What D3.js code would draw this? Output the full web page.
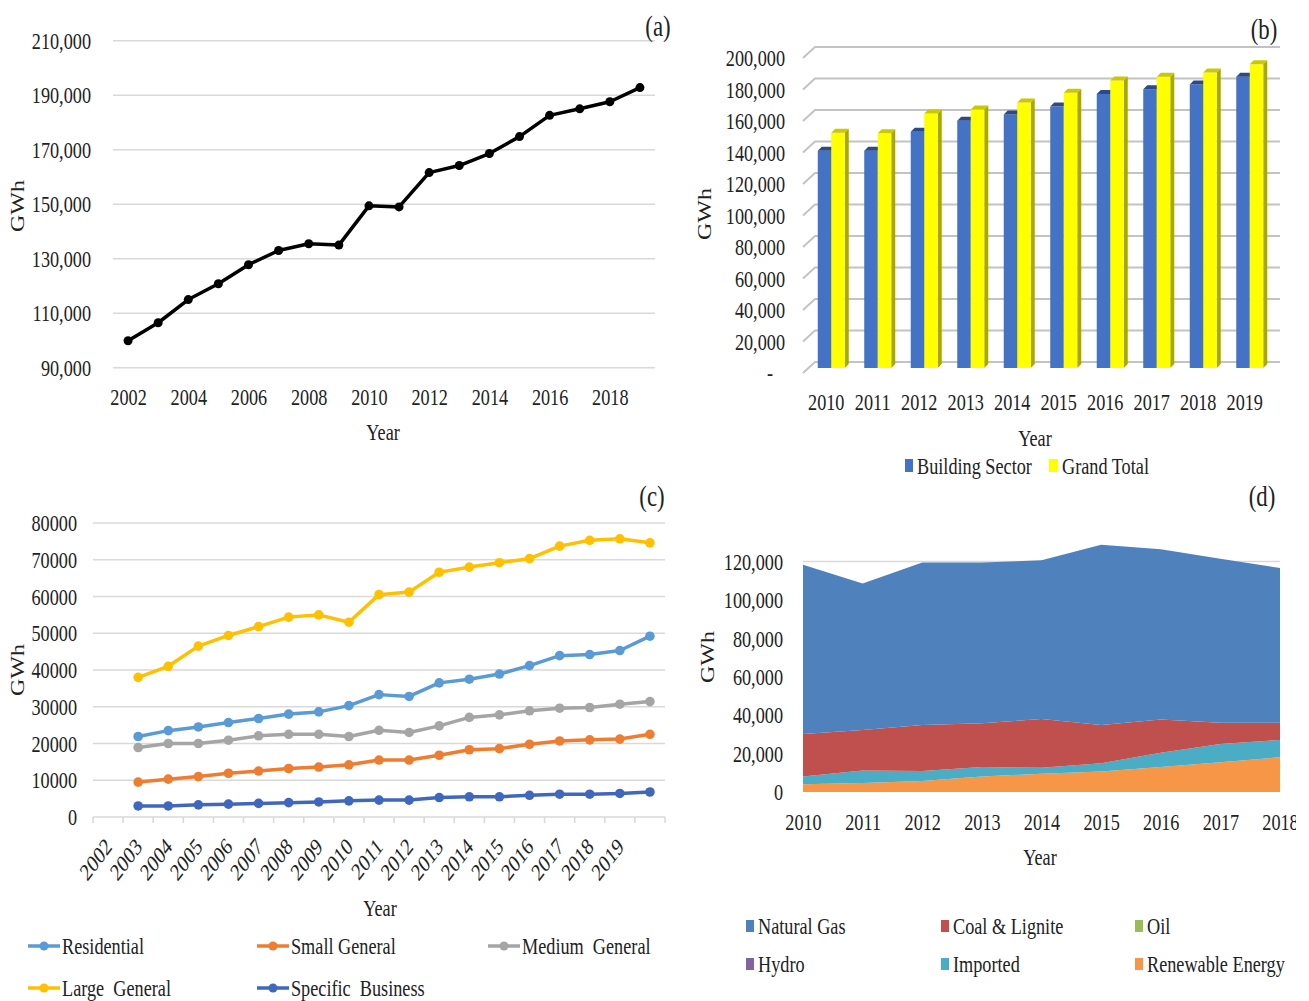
<!DOCTYPE html>
<html>
<head>
<meta charset="utf-8">
<script src="https://cdn.jsdelivr.net/npm/d3@7"></script>
<style>
  html, body { margin: 0; padding: 0; background: #fff; }
  svg { display: block; }
  text { font-family: "Liberation Serif", "Times New Roman", serif; fill: #222; }
</style>
</head>
<body>
<svg id="fig" width="1309" height="1001"></svg>
<script>
// ---------- (a) total electricity consumption ----------
const yearsA = d3.range(2002, 2020);
const totalA = [99900, 106500, 115000, 120800, 127800, 133000, 135500, 135000, 149400,
                149000, 161600, 164200, 168600, 174800, 182600, 185000, 187600, 192800];

// ---------- (b) building sector vs grand total ----------
const yearsB = d3.range(2010, 2020).map(String);
const seriesB = ["Building Sector", "Grand Total"];
const buildingB = [138000, 138000, 150000, 157000, 161000, 166000, 174000, 177000, 180000, 185000];
const grandB = [149400, 149000, 161600, 164200, 168600, 174800, 182600, 185000, 187600, 192800];

// ---------- (c) consumption by customer group ----------
const labelsC = d3.range(2002, 2020).map(String);
const residential = [21900, 23500, 24500, 25700, 26800, 28000, 28600, 30300, 33300,
                     32800, 36500, 37500, 38900, 41200, 43900, 44200, 45300, 49200];
const smallGeneral = [9500, 10300, 11000, 11900, 12500, 13200, 13600, 14200, 15500,
                      15500, 16800, 18300, 18600, 19800, 20700, 21000, 21200, 22500];
const mediumGeneral = [18900, 20000, 20000, 20900, 22100, 22500, 22500, 21900, 23600,
                       23000, 24800, 27100, 27800, 28900, 29600, 29800, 30700, 31400];
const largeGeneral = [38000, 41000, 46500, 49400, 51800, 54400, 55000, 53000, 60500,
                      61200, 66600, 68000, 69200, 70300, 73700, 75300, 75700, 74600];
const specificBusiness = [3000, 3000, 3300, 3500, 3700, 3900, 4100, 4400, 4600,
                          4600, 5300, 5500, 5500, 5900, 6200, 6200, 6400, 6800];

// ---------- (d) generation by fuel ----------
const yearsD = d3.range(2010, 2019);
const naturalGas = [88100, 76200, 84600, 83700, 82600, 93800, 88700, 85300, 80500];
const coalLignite = [22100, 21100, 24000, 22800, 25400, 19900, 17300, 11100, 9000];
const oil = [0, 0, 0, 0, 0, 0, 0, 0, 0];
const hydro = [0, 0, 0, 0, 0, 0, 0, 0, 0];
const imported = [4100, 6500, 5200, 4900, 3100, 4300, 7400, 9500, 9000];
const renewable = [4000, 4700, 5700, 8100, 9500, 10700, 13000, 15500, 18100];

const svg = d3.select("#fig");
const K = 0.76;          // horizontal text compression of the typeface
const FS = 24;           // base font size

function squeeze(sel) {
  sel.each(function () {
    const t = d3.select(this);
    const x = +t.attr("x") || 0, y = +t.attr("y") || 0;
    t.attr("transform", `translate(${x},${y}) scale(${K},1) translate(${-x},${-y})`);
  });
  return sel;
}
function label(g, x, y, txt, size, anchor) {
  const t = g.append("text").attr("x", x).attr("y", y)
    .attr("font-size", size || FS).attr("text-anchor", anchor || "middle")
    .style("white-space", "pre").text(txt);
  squeeze(t);
  return t;
}
function vlabel(g, cx, cy, txt) {
  g.append("text")
    .attr("transform", `translate(${cx},${cy}) scale(${K},1) rotate(-90)`)
    .attr("text-anchor", "middle").attr("dy", "0.35em")
    .attr("font-size", FS).text(txt);
}
function styleAxis(g) {
  g.attr("font-family", null).attr("font-size", FS);
  g.select(".domain").remove();
  g.selectAll("text").attr("fill", "#222");
  squeeze(g.selectAll("text"));
}

/* ===================== panel (a) ===================== */
const gA = svg.append("g");
const xA = d3.scalePoint().domain(yearsA).range([113, 655]).padding(0.5);
const yA = d3.scaleLinear().domain([90000, 210000]).range([367.7, 40.7]);
const ticksA = d3.range(90000, 210001, 20000);

gA.selectAll("line.grid").data(ticksA).join("line")
  .attr("x1", 113).attr("x2", 655).attr("y1", d => yA(d)).attr("y2", d => yA(d))
  .attr("stroke", "#d9d9d9").attr("stroke-width", 1.6);

gA.append("g").attr("transform", "translate(113,0)")
  .call(d3.axisLeft(yA).tickValues(ticksA).tickFormat(d3.format(",")).tickSize(0).tickPadding(22))
  .call(styleAxis);
gA.append("g").attr("transform", `translate(0,${yA(90000)})`)
  .call(d3.axisBottom(xA).tickValues(yearsA.filter(y => y % 2 === 0)).tickFormat(d3.format("d")).tickSize(0).tickPadding(20))
  .call(styleAxis);

gA.append("path").datum(totalA)
  .attr("fill", "none").attr("stroke", "#000").attr("stroke-width", 3.5).attr("stroke-linejoin", "round")
  .attr("d", d3.line().x((d, i) => xA(yearsA[i])).y(d => yA(d)));
gA.selectAll("circle").data(totalA).join("circle")
  .attr("cx", (d, i) => xA(yearsA[i])).attr("cy", d => yA(d)).attr("r", 4.5).attr("fill", "#000");

vlabel(gA, 18, 206, "GWh");
label(gA, 383, 440, "Year");
label(gA, 658, 36, "(a)", 30);

/* ===================== panel (b) ===================== */
const gB = svg.append("g");
const xB = d3.scaleBand().domain(yearsB).range([803, 1268]);
const yB = d3.scaleLinear().domain([0, 200000]).range([373, 58]);
const ticksB = d3.range(0, 200001, 20000);
const BACK_DX = 12, BACK_DY = -11;   // offset of the back wall
const BAR_DX = 5, BAR_DY = -5;       // bars stand mid-depth
const DEPTH = 4;                     // bar thickness in the oblique view
const xS = d3.scaleBand().domain(seriesB).range([0, 27]);

gB.selectAll("path.grid").data(ticksB).join("path")
  .attr("fill", "none").attr("stroke", "#c3c3c3").attr("stroke-width", 2)
  .attr("d", d => `M803,${yB(d)}L${803 + BACK_DX},${yB(d) + BACK_DY}L1280,${yB(d) + BACK_DY}`);

const axB = gB.append("g").attr("transform", "translate(803,0)")
  .call(d3.axisLeft(yB).tickValues(ticksB).tickFormat(d => d === 0 ? "-" : d3.format(",")(d)).tickSize(0).tickPadding(18));
axB.selectAll(".tick").filter(d => d === 0).select("text").attr("x", -30);
styleAxis(axB);

gB.append("g").attr("transform", `translate(0,${yB(0)})`)
  .call(d3.axisBottom(xB).tickSize(0).tickPadding(20))
  .call(styleAxis);

const barColors = {
  "Building Sector": { front: "#4472c4", side: "#2c4f94", top: "#2a4a8a" },
  "Grand Total": { front: "#ffff00", side: "#a8a800", top: "#c9c900" }
};
const barRows = [];
yearsB.forEach((yr, i) => {
  barRows.push({ year: yr, key: "Building Sector", value: buildingB[i] });
  barRows.push({ year: yr, key: "Grand Total", value: grandB[i] });
});
const bars = gB.selectAll("g.bar").data(barRows).join("g").attr("class", "bar");
bars.each(function (d) {
  const g = d3.select(this);
  const c = barColors[d.key];
  const x0 = xB(d.year) + xB.bandwidth() / 2 + BAR_DX - 13.5 + xS(d.key);
  const w = xS.bandwidth();
  const yt = yB(d.value) + BAR_DY, yb = yB(0) + BAR_DY;
  g.append("polygon").attr("fill", c.side)
    .attr("points", `${x0 + w},${yt} ${x0 + w + DEPTH},${yt - DEPTH} ${x0 + w + DEPTH},${yb - DEPTH} ${x0 + w},${yb}`);
  g.append("rect").attr("x", x0).attr("y", yt).attr("width", w).attr("height", yb - yt).attr("fill", c.front);
  g.append("polygon").attr("fill", c.top)
    .attr("points", `${x0},${yt} ${x0 + DEPTH},${yt - DEPTH} ${x0 + w + DEPTH},${yt - DEPTH} ${x0 + w},${yt}`);
});

vlabel(gB, 705, 214, "GWh");
label(gB, 1035, 446, "Year");
gB.append("rect").attr("x", 905).attr("y", 459).attr("width", 8).attr("height", 13).attr("fill", barColors["Building Sector"].front);
label(gB, 917, 474, "Building Sector", FS, "start");
gB.append("rect").attr("x", 1049).attr("y", 459).attr("width", 9).attr("height", 13).attr("fill", barColors["Grand Total"].front);
label(gB, 1062, 474, "Grand Total", FS, "start");
label(gB, 1264, 39, "(b)", 30);

/* ===================== panel (c) ===================== */
const gC = svg.append("g");
const slotsC = d3.range(labelsC.length + 1);
const xC = d3.scaleBand().domain(slotsC).range([93, 665]);
const yC = d3.scaleLinear().domain([0, 80000]).range([817, 523]);
const ticksC = d3.range(0, 80001, 10000);
const bw = xC.bandwidth();

gC.selectAll("line.grid").data(ticksC).join("line")
  .attr("x1", 93).attr("x2", 665).attr("y1", d => yC(d)).attr("y2", d => yC(d))
  .attr("stroke", "#d9d9d9").attr("stroke-width", 1.6);
// category tick marks between slots
gC.selectAll("line.tk").data(d3.range(slotsC.length + 1)).join("line")
  .attr("x1", i => xC.range()[0] + i * xC.step()).attr("x2", i => xC.range()[0] + i * xC.step())
  .attr("y1", yC(0)).attr("y2", yC(0) + 6).attr("stroke", "#d9d9d9").attr("stroke-width", 1.6);

gC.append("g").attr("transform", "translate(93,0)")
  .call(d3.axisLeft(yC).tickValues(ticksC).tickFormat(d3.format("d")).tickSize(0).tickPadding(16))
  .call(styleAxis);

gC.selectAll("text.xl").data(labelsC).join("text")
  .attr("text-anchor", "end").attr("font-size", FS)
  .attr("transform", (d, i) => `translate(${xC(i) + bw / 2 + 5},${yC(0) + 31}) scale(${K},1) rotate(-45)`)
  .text(d => d);

const seriesC = [
  { name: "Large  General", values: largeGeneral, color: "#ffc000" },
  { name: "Residential", values: residential, color: "#5b9bd5" },
  { name: "Medium  General", values: mediumGeneral, color: "#a5a5a5" },
  { name: "Small General", values: smallGeneral, color: "#ed7d31" },
  { name: "Specific  Business", values: specificBusiness, color: "#3f68bd" }
];
const lineC = d3.line().x((d, i) => xC(i + 1) + bw / 2).y(d => yC(d));
seriesC.forEach(s => {
  gC.append("path").datum(s.values)
    .attr("fill", "none").attr("stroke", s.color).attr("stroke-width", 3.5).attr("stroke-linejoin", "round")
    .attr("d", lineC);
  gC.append("g").selectAll("circle").data(s.values).join("circle")
    .attr("cx", (d, i) => xC(i + 1) + bw / 2).attr("cy", d => yC(d)).attr("r", 4.8).attr("fill", s.color);
});

vlabel(gC, 18, 670, "GWh");
label(gC, 380, 916, "Year");
label(gC, 652, 506, "(c)", 30);

const legendC = [
  { s: seriesC[1], x: 28, y: 946 },
  { s: seriesC[3], x: 257, y: 946 },
  { s: seriesC[2], x: 488, y: 946 },
  { s: seriesC[0], x: 28, y: 988 },
  { s: seriesC[4], x: 257, y: 988 }
];
legendC.forEach(l => {
  gC.append("line").attr("x1", l.x).attr("x2", l.x + 32).attr("y1", l.y).attr("y2", l.y)
    .attr("stroke", l.s.color).attr("stroke-width", 3.5);
  gC.append("circle").attr("cx", l.x + 16).attr("cy", l.y).attr("r", 4.5).attr("fill", l.s.color);
  label(gC, l.x + 34, l.y + 8, l.s.name, FS, "start");
});

/* ===================== panel (d) ===================== */
const gD = svg.append("g");
const xD = d3.scalePoint().domain(yearsD).range([803, 1280]);
const yD = d3.scaleLinear().domain([0, 120000]).range([792, 561.5]);
const ticksD = d3.range(0, 120001, 20000);

const keysD = ["Renewable Energy", "Imported", "Hydro", "Oil", "Coal & Lignite", "Natural Gas"];
const colorD = {
  "Natural Gas": "#4f81bd", "Coal & Lignite": "#c0504d", "Oil": "#9bbb59",
  "Hydro": "#8064a2", "Imported": "#4bacc6", "Renewable Energy": "#f79646"
};
const tableD = yearsD.map((yr, i) => ({
  year: yr,
  "Natural Gas": naturalGas[i], "Coal & Lignite": coalLignite[i], "Oil": oil[i],
  "Hydro": hydro[i], "Imported": imported[i], "Renewable Energy": renewable[i]
}));
const stackD = d3.stack().keys(keysD)(tableD);

gD.append("line").attr("x1", 803).attr("x2", 1280).attr("y1", yD(120000)).attr("y2", yD(120000))
  .attr("stroke", "#d9d9d9").attr("stroke-width", 1.6);

const areaD = d3.area().x(d => xD(d.data.year)).y0(d => yD(d[0])).y1(d => yD(d[1]));
gD.selectAll("path.layer").data(stackD).join("path")
  .attr("fill", d => colorD[d.key]).attr("d", areaD);

gD.append("g").attr("transform", "translate(803,0)")
  .call(d3.axisLeft(yD).tickValues(ticksD).tickFormat(d3.format(",")).tickSize(0).tickPadding(20))
  .call(styleAxis);

svg.append("defs").append("clipPath").attr("id", "clipD")
  .append("rect").attr("x", 680).attr("y", 790).attr("width", 616).attr("height", 60);
gD.append("g").attr("clip-path", "url(#clipD)")
  .append("g").attr("transform", `translate(0,${yD(0)})`)
  .call(d3.axisBottom(xD).tickFormat(d3.format("d")).tickSize(0).tickPadding(21))
  .call(styleAxis);

vlabel(gD, 708, 657, "GWh");
label(gD, 1040, 865, "Year");
label(gD, 1262, 506, "(d)", 30);

const legendD = [
  { k: "Natural Gas", x: 746, y: 926 }, { k: "Coal & Lignite", x: 941, y: 926 }, { k: "Oil", x: 1135, y: 926 },
  { k: "Hydro", x: 746, y: 964 }, { k: "Imported", x: 941, y: 964 }, { k: "Renewable Energy", x: 1135, y: 964 }
];
legendD.forEach(l => {
  gD.append("rect").attr("x", l.x).attr("y", l.y - 6).attr("width", 8).attr("height", 12).attr("fill", colorD[l.k]);
  label(gD, l.x + 12, l.y + 8, l.k, FS, "start");
});
</script>
</body>
</html>
